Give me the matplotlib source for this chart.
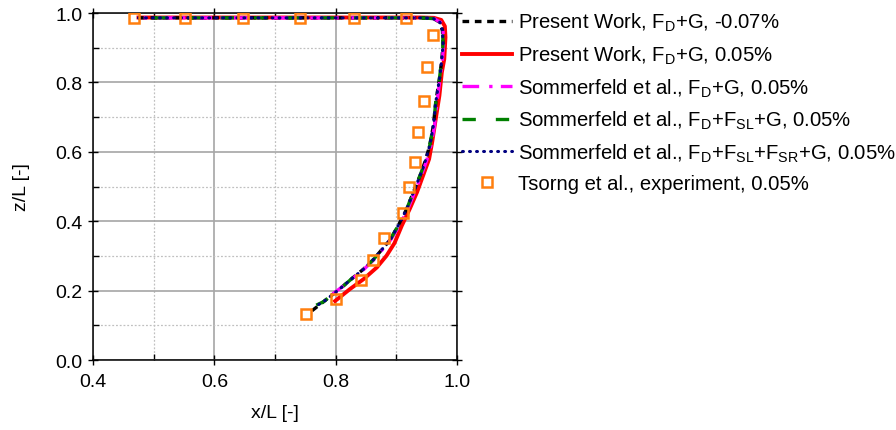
import matplotlib
matplotlib.use("Agg")
import matplotlib.pyplot as plt
from matplotlib.ticker import MultipleLocator

plt.rcParams['font.family'] = ['Liberation Sans', 'DejaVu Sans']
plt.rcParams['mathtext.fontset'] = 'custom'
plt.rcParams['mathtext.rm'] = 'Liberation Sans'
plt.rcParams['mathtext.it'] = 'Liberation Sans:italic'

# ---- data ----
pw_m007_x = [0.761, 0.780, 0.796, 0.813, 0.829, 0.846, 0.862, 0.876, 0.890, 0.903, 0.917,
             0.928, 0.939, 0.948, 0.955, 0.961, 0.965, 0.971, 0.975, 0.977, 0.976, 0.972,
             0.961, 0.940, 0.900, 0.800, 0.700, 0.600, 0.471]
pw_m007_z = [0.142, 0.168, 0.190, 0.214, 0.238, 0.262, 0.289, 0.318, 0.347, 0.387, 0.435,
             0.483, 0.531, 0.575, 0.618, 0.675, 0.743, 0.810, 0.867, 0.911, 0.949, 0.973,
             0.984, 0.986, 0.986, 0.986, 0.986, 0.986, 0.986]

pw_005_x = [0.799, 0.824, 0.846, 0.868, 0.884, 0.897, 0.909, 0.922, 0.934, 0.944, 0.954,
            0.959, 0.965, 0.971, 0.975, 0.979, 0.981, 0.980, 0.974, 0.962, 0.940, 0.900,
            0.800, 0.700, 0.600, 0.475]
pw_005_z = [0.170, 0.205, 0.233, 0.267, 0.301, 0.337, 0.387, 0.435, 0.483, 0.531, 0.579,
            0.627, 0.695, 0.762, 0.829, 0.867, 0.930, 0.962, 0.980, 0.986, 0.987, 0.987,
            0.987, 0.987, 0.987, 0.987]

som_fd_x = [0.795, 0.813, 0.830, 0.847, 0.863, 0.877, 0.891, 0.905, 0.919, 0.930, 0.941,
            0.950, 0.957, 0.963, 0.967, 0.972, 0.976, 0.978, 0.977, 0.973, 0.962, 0.940,
            0.900, 0.800, 0.700, 0.600, 0.471]
som_fd_z = [0.190, 0.214, 0.238, 0.262, 0.289, 0.318, 0.347, 0.387, 0.435, 0.483, 0.531,
            0.575, 0.618, 0.675, 0.743, 0.810, 0.867, 0.911, 0.949, 0.973, 0.984, 0.986,
            0.986, 0.986, 0.986, 0.986, 0.986]

som_fdsl_x = [0.768, 0.780, 0.796, 0.813, 0.829, 0.846, 0.862, 0.876, 0.890, 0.903, 0.917,
              0.928, 0.939, 0.948, 0.955, 0.961, 0.965, 0.971, 0.975, 0.977, 0.976, 0.972,
              0.961, 0.940, 0.900, 0.800, 0.700, 0.600, 0.471]
som_fdsl_z = [0.158, 0.168, 0.190, 0.214, 0.238, 0.262, 0.289, 0.318, 0.347, 0.387, 0.435,
              0.483, 0.531, 0.575, 0.618, 0.675, 0.743, 0.810, 0.867, 0.911, 0.949, 0.973,
              0.984, 0.986, 0.986, 0.986, 0.986, 0.986, 0.986]

som_fdslsr_x = [0.772, 0.780, 0.796, 0.813, 0.829, 0.846, 0.862, 0.876, 0.890, 0.903, 0.917,
                0.928, 0.939, 0.948, 0.955, 0.961, 0.965, 0.971, 0.975, 0.977, 0.976, 0.972,
                0.961, 0.940, 0.900, 0.800, 0.700, 0.600, 0.471]
som_fdslsr_z = [0.160, 0.168, 0.190, 0.214, 0.238, 0.262, 0.289, 0.318, 0.347, 0.387, 0.435,
                0.483, 0.531, 0.575, 0.618, 0.675, 0.743, 0.810, 0.867, 0.911, 0.949, 0.973,
                0.984, 0.986, 0.986, 0.986, 0.986, 0.986, 0.986]

exp_x = [0.468, 0.552, 0.647, 0.741, 0.830, 0.916, 0.961, 0.951, 0.946, 0.935, 0.931,
         0.921, 0.911, 0.880, 0.861, 0.841, 0.801, 0.751]
exp_z = [0.987, 0.987, 0.987, 0.987, 0.987, 0.987, 0.937, 0.843, 0.747, 0.658, 0.572,
         0.498, 0.425, 0.352, 0.288, 0.231, 0.175, 0.132]

labels = [r'Present Work, F$_\mathrm{D}$+G, -0.07%',
          r'Present Work, F$_\mathrm{D}$+G, 0.05%',
          r'Sommerfeld et al., F$_\mathrm{D}$+G, 0.05%',
          r'Sommerfeld et al., F$_\mathrm{D}$+F$_\mathrm{SL}$+G, 0.05%',
          r'Sommerfeld et al., F$_\mathrm{D}$+F$_\mathrm{SL}$+F$_\mathrm{SR}$+G, 0.05%',
          'Tsorng et al., experiment, 0.05%']

x_ticks = [0.4, 0.6, 0.8, 1.0]
z_ticks = [0.0, 0.2, 0.4, 0.6, 0.8, 1.0]

fig = plt.figure(figsize=(8.96, 4.31), dpi=100)
ax = fig.add_axes([93/896, 1-361/431, (457-93)/896, (361-14)/431])

lw = 2.4
l_red, = ax.plot(pw_005_x, pw_005_z, color='#ff0000', lw=2.8, ls='-', zorder=2)
l_blk, = ax.plot(pw_m007_x, pw_m007_z, color='black', lw=lw, ls=(0, (2.0, 1.7)), zorder=3)
l_mag, = ax.plot(som_fd_x, som_fd_z, color='#ff00ff', lw=lw, ls=(0, (5, 3, 1, 2.5)), zorder=3)
l_grn, = ax.plot(som_fdsl_x, som_fdsl_z, color='#008000', lw=lw, ls=(0, (4, 6)), zorder=4)
l_blu, = ax.plot(som_fdslsr_x, som_fdslsr_z, color='#000080', lw=2.2, ls=(0, (0.3, 2.0)),
                 dash_capstyle='round', zorder=5)
l_exp, = ax.plot(exp_x, exp_z, ls='none', marker='s', markersize=7.5, markerfacecolor='none',
                 markeredgecolor='#ff7f0e', markeredgewidth=1.8, zorder=6)

ax.set_xlim(0.4, 1.0)
ax.set_ylim(0.0, 1.0)
ax.set_xticks(x_ticks)
ax.set_yticks(z_ticks)
ax.xaxis.set_minor_locator(MultipleLocator(0.1))
ax.yaxis.set_minor_locator(MultipleLocator(0.1))
ax.grid(which='major', color='#a6a6a6', lw=1.2, ls='-')
ax.grid(which='minor', color='#c0c0c0', lw=0.9, ls=(0, (1.5, 1.5)))
ax.set_axisbelow(True)
for s in ax.spines.values():
    s.set_linewidth(1.1)
ax.tick_params(which='major', direction='inout', length=7, width=1.0, labelsize=14,
               top=True, right=True, pad=4)
ax.tick_params(axis='x', which='major', pad=6)
ax.tick_params(which='minor', direction='in', length=4, width=1.0, top=True, right=True)
ax.set_xlabel('x/L [-]', fontsize=14, labelpad=10)
ax.set_ylabel('z/L [-]', fontsize=14, labelpad=18)

handles = [l_blk, l_red, l_mag, l_grn, l_blu, l_exp]
fig.legend(handles, labels, loc='upper left', bbox_to_anchor=(462/896, 1-12/431),
           bbox_transform=fig.transFigure, frameon=False, fontsize=14.6,
           handlelength=2.45, handletextpad=0.3, labelspacing=0.51,
           borderpad=0, borderaxespad=0)

fig.savefig('out.png', dpi=100)
